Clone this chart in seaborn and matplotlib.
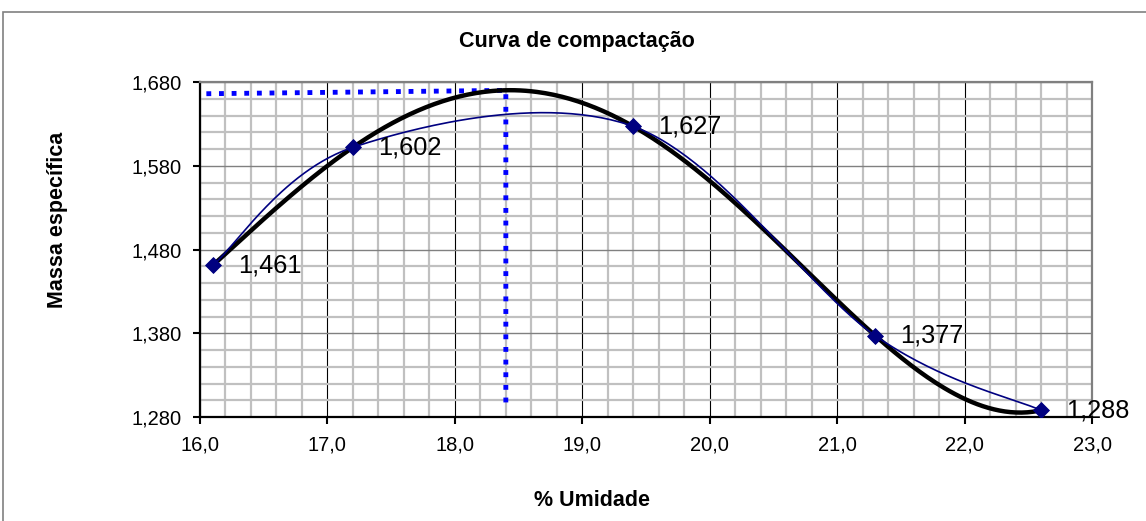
import numpy as np
import pandas as pd
import matplotlib
matplotlib.use("Agg")
import matplotlib.pyplot as plt
import matplotlib.ticker as mticker
from matplotlib.patches import Rectangle
import seaborn as sns

# data
umidade = [16.1, 17.2, 19.4, 21.3, 22.6]
massa = [1.461, 1.602, 1.627, 1.377, 1.288]
labels = ["1,461", "1,602", "1,627", "1,377", "1,288"]

# dotted guide lines (optimum moisture / max density)
guia_x = [16.05, 18.4, 18.4]
guia_y = [1.666, 1.670, 1.295]

x_ticks = [16.0, 17.0, 18.0, 19.0, 20.0, 21.0, 22.0, 23.0]
y_ticks = [1.280, 1.380, 1.480, 1.580, 1.680]

sns.set_style("white")
plt.rcParams['font.family'] = ['Liberation Sans', 'DejaVu Sans']
plt.rcParams.update({'text.color': 'black', 'axes.labelcolor': 'black',
                     'xtick.color': 'black', 'ytick.color': 'black'})


def excel_smooth(x, y, n=60):
    # catmull-rom like the excel "smoothed line"
    P = np.column_stack([np.array(x, float), np.array(y, float)])
    P = np.vstack([P[0], P, P[-1]])
    out = []
    for i in range(1, len(P) - 2):
        p0, p1, p2, p3 = P[i - 1], P[i], P[i + 1], P[i + 2]
        c1 = p1 + (p2 - p0) / 6
        c2 = p2 - (p3 - p1) / 6
        t = np.linspace(0, 1, n)[:, None]
        seg = ((1 - t) ** 3) * p1 + 3 * ((1 - t) ** 2) * t * c1 + 3 * (1 - t) * t ** 2 * c2 + t ** 3 * p2
        out.append(seg)
    out = np.vstack(out)
    return out[:, 0], out[:, 1]


sx, sy = excel_smooth(umidade, massa)
smooth_df = pd.DataFrame({"x": sx, "y": sy})

# polynomial trendline
coef = np.polyfit(umidade, massa, 4)
tx = np.linspace(min(umidade), max(umidade), 300)
trend_df = pd.DataFrame({"x": tx, "y": np.polyval(coef, tx)})

pts = pd.DataFrame({"x": umidade, "y": massa})

fig = plt.figure(figsize=(11.46, 5.21), dpi=100)
ax = fig.add_axes([200 / 1146, 1 - 417 / 521, 892 / 1146, 335 / 521])

ax.set_xlim(16.0, 23.0)
ax.set_ylim(1.280, 1.680)
ax.xaxis.set_minor_locator(mticker.MultipleLocator(0.2))
ax.yaxis.set_minor_locator(mticker.MultipleLocator(0.02))
ax.grid(which="minor", color="#c0c0c0", lw=1.6, zorder=0)
ax.grid(which="major", axis="y", color="#808080", lw=1.0, zorder=0)
ax.grid(which="major", axis="x", color="black", lw=0.8, zorder=0)
ax.set_axisbelow(True)

ax.set_xticks(x_ticks)
ax.set_yticks(y_ticks)
ax.set_xticklabels([f"{v:.1f}".replace(".", ",") for v in x_ticks])
ax.set_yticklabels([f"{v:.3f}".replace(".", ",") for v in y_ticks])
ax.tick_params(axis="both", which="major", direction="out", length=5, width=1.5,
               labelsize=14.5, color="black", labelcolor="black",
               left=True, bottom=True, pad=8)
ax.tick_params(which="minor", length=0)

for s in ["left", "bottom"]:
    ax.spines[s].set_color("black")
    ax.spines[s].set_linewidth(1.6)
for s in ["top", "right"]:
    ax.spines[s].set_color("#808080")
    ax.spines[s].set_linewidth(1.6)

sns.lineplot(data=trend_df, x="x", y="y", color="black", lw=3.2, ax=ax, zorder=3)
sns.lineplot(data=smooth_df, x="x", y="y", sort=False, estimator=None, color="#000080",
             lw=1.2, ax=ax, zorder=4)
sns.scatterplot(data=pts, x="x", y="y", marker="D", s=65, color="#000080",
                edgecolor="#000080", ax=ax, zorder=5)
ax.plot(guia_x, guia_y, color="#0000ff", lw=3.5, linestyle=(0, (1, 1.6)),
        dash_capstyle="butt", zorder=2, clip_on=False)

for xv, yv, lab in zip(umidade, massa, labels):
    ax.annotate(lab, (xv, yv), xytext=(18, 0), textcoords="offset points",
                va="center", ha="left", fontsize=18.3, color="black",
                clip_on=False, zorder=6)

ax.set_xlabel("")
ax.set_ylabel("")

fig.text(577 / 1146, 1 - 42 / 521, "Curva de compactação", ha="center", va="center",
         fontsize=15.5, fontweight="bold", color="black")
fig.text(592 / 1146, 1 - 500 / 521, "% Umidade", ha="center", va="center",
         fontsize=15.5, fontweight="bold", color="black")
fig.text(58 / 1146, 1 - 220 / 521, "Massa específica", ha="center", va="center",
         rotation=90, fontsize=15.5, fontweight="bold", color="black")

fig.patches.append(Rectangle((3 / 1146, -0.05), 1.2, 1 - 12 / 521 + 0.05,
                             transform=fig.transFigure, fill=False,
                             edgecolor="#808080", lw=1.2))

fig.savefig("out.png", dpi=100)
